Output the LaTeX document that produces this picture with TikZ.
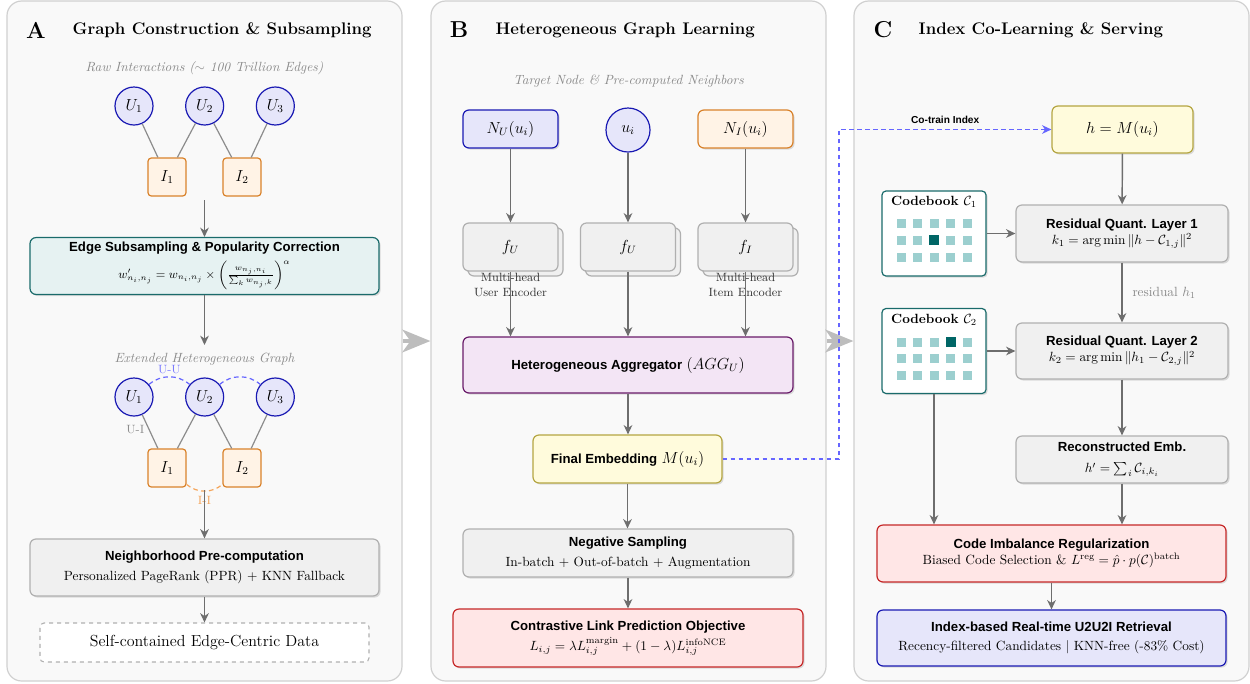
\documentclass[tikz,border=0pt]{standalone}
\usepackage{amsfonts,amssymb,amsmath}
\usepackage{fontspec}
\newfontfamily\headsans{Liberation Sans}
\usetikzlibrary{arrows.meta,positioning,shadows}

\definecolor{panelbg}{HTML}{F9F9F9}
\definecolor{panelrule}{HTML}{D0D0D0}
\definecolor{notegray}{HTML}{8A8A8A}
\definecolor{flowgray}{HTML}{6E6E6E}
\definecolor{linkgray}{HTML}{8C8C8C}
\definecolor{ublue}{HTML}{1A1AB3}
\definecolor{ufill}{HTML}{E6E6FA}
\definecolor{bluerule}{HTML}{1A1AB3}
\definecolor{bluefill}{HTML}{E6E6FA}
\definecolor{orangerule}{HTML}{D9822B}
\definecolor{orangefill}{HTML}{FFF3E6}
\definecolor{tealrule}{HTML}{1A6B6B}
\definecolor{tealfill}{HTML}{E6F2F2}
\definecolor{tealcell}{HTML}{9CCFCF}
\definecolor{tealdark}{HTML}{006666}
\definecolor{grayrule}{HTML}{B0B0B0}
\definecolor{grayfill}{HTML}{F0F0F0}
\definecolor{purplerule}{HTML}{6A1B6A}
\definecolor{purplefill}{HTML}{F3E5F5}
\definecolor{yellowrule}{HTML}{B5A642}
\definecolor{yellowfill}{HTML}{FFFBDC}
\definecolor{redrule}{HTML}{C62828}
\definecolor{redfill}{HTML}{FFE6E6}
\definecolor{cotrainblue}{HTML}{6666FF}
\definecolor{uulabel}{HTML}{7A7AFF}
\definecolor{iilabel}{HTML}{F5A55A}
\definecolor{bigarrow}{HTML}{BDBDBD}

\newcommand{\boxtitle}[1]{{\headsans\bfseries\fontsize{9.9}{12}\selectfont #1}}

\begin{document}
\begin{tikzpicture}[x=0.75pt,y=0.75pt,>={Stealth[length=7pt,width=6.5pt,inset=2.2pt]},
  node distance=53pt,
  boxsize/.style 2 args={minimum width=#1*0.75pt,minimum height=#2*0.75pt},
  panel/.style={draw=panelrule,fill=panelbg,line width=0.9pt,rounded corners=11pt,boxsize={395}{680}},
  heading/.style={font=\fontsize{12.6}{15}\selectfont\bfseries,anchor=west},
  letter/.style={font=\LARGE\bfseries},
  note/.style={font=\itshape,text=notegray},
  unode/.style={circle,draw=ublue,fill=ufill,line width=0.9pt,minimum size=28.5pt,inner sep=0pt,font=\large},
  inode/.style={draw=orangerule,fill=orangefill,line width=0.9pt,rounded corners=2.5pt,minimum size=28.5pt,inner sep=0pt,font=\large},
  card/.style={draw=#1rule,fill=#1fill,line width=0.9pt,rounded corners=4.5pt,align=center,
    drop shadow={shadow xshift=1.2pt,shadow yshift=-1.2pt,opacity=0.12,fill=black}},
  encoder/.style={card=gray,boxsize={95}{48},font=\large,
    copy shadow={shadow xshift=3.75pt,shadow yshift=-3.75pt}},
  encnote/.style={font=\small,align=center,inner sep=0pt,text=black!80},
  codebook/.style={draw=tealrule,fill=white,line width=0.9pt,rounded corners=3pt,boxsize={104}{85},
    drop shadow={shadow xshift=1.2pt,shadow yshift=-1.2pt,opacity=0.12,fill=black}},
  link/.style={draw=linkgray,line width=0.9pt},
  flow/.style={->,draw=flowgray,line width=1.1pt},
  uuedge/.style={draw=cotrainblue,dash pattern=on 3.5pt off 2.5pt,line width=0.9pt},
  iiedge/.style={draw=iilabel,dash pattern=on 3.5pt off 2.5pt,line width=0.9pt},
  cotrain/.style={->,draw=cotrainblue,dash pattern=on 3.5pt off 2.5pt,line width=0.9pt},
  bigflow/.style={-{Stealth[length=21pt,width=17pt,inset=6pt]},draw=bigarrow,line width=3pt}]

\useasboundingbox (0,0) rectangle (1250,-683);

\node[panel] (pa) at (204.5,-341) {};
\node[panel] (pb) at (628.5,-341) {};
\node[panel] (pc) at (1051.5,-341) {};

\node[letter] (la) at (36,-30) {A};
\node[heading] (ta) at (68,-30) {Graph Construction \& Subsampling};
\node[letter] (lb) at (459,-30) {B};
\node[heading] (tb) at (491,-30) {Heterogeneous Graph Learning};
\node[letter] (lc) at (883,-30) {C};
\node[heading] (tc) at (914,-30) {Index Co-Learning \& Serving};

\node[note] (raw) at (204.5,-68) {Raw Interactions ($\sim$ 100 Trillion Edges)};
\node[unode] (ua1) at (134,-106) {$U_1$};
\node[unode,right of=ua1] (ua2) {$U_2$};
\node[unode,right of=ua2] (ua3) {$U_3$};
\node[inode] (ia1) at (167,-177) {$I_1$};
\node[inode,right of=ia1,node distance=56.25pt] (ia2) {$I_2$};
\draw[link] (ua1) -- (ia1) (ua2) -- (ia1) (ua2) -- (ia2) (ua3) -- (ia2);

\coordinate (ga) at (204.5,-200);
\node[card=teal,boxsize={349}{56}] (edge) at (204.5,-266)
  {\boxtitle{Edge Subsampling \& Popularity Correction}\\[4pt]
   {\small $w'_{n_i,n_j} = w_{n_i,n_j}\times\left(\frac{w_{n_j,n_i}}{\sum_k w_{n_j,k}}\right)^{\alpha}$}};
\draw[flow] (ga) -- (edge);

\coordinate (gb) at (204.5,-345);
\draw[flow] (edge) -- (gb);
\node[note] (ext) at (204.5,-359) {Extended Heterogeneous Graph};
\node[unode] (ub1) at (134,-397) {$U_1$};
\node[unode,right of=ub1] (ub2) {$U_2$};
\node[unode,right of=ub2] (ub3) {$U_3$};
\node[inode] (ib1) at (167,-468) {$I_1$};
\node[inode,right of=ib1,node distance=56.25pt] (ib2) {$I_2$};
\draw[link] (ub1) -- node[pos=0.45,left,text=linkgray,font=\small] {U-I} (ib1)
  (ub2) -- (ib1) (ub2) -- (ib2) (ub3) -- (ib2);
\draw[uuedge] (ub1) to[bend left=40] node[above=-1.5pt,text=uulabel,font=\small] {U-U} (ub2);
\draw[uuedge] (ub2) to[bend left=40] (ub3);
\draw[iiedge] (ib1) to[bend right=40] node[below=0pt,text=iilabel,font=\small] {I-I} (ib2);

\coordinate (gc) at (204.5,-490);
\node[card=gray,boxsize={349}{57}] (npc) at (204.5,-567.5)
  {\boxtitle{Neighborhood Pre-computation}\\[3pt]
   Personalized PageRank (PPR) + KNN Fallback};
\draw[flow] (gc) -- (npc);
\node[draw=grayrule,dashed,fill=white,line width=0.8pt,rounded corners=3pt,boxsize={329}{39},font=\large] (data) at (204.5,-642.5)
  {Self-contained Edge-Centric Data};
\draw[flow] (npc) -- (data);

\node[note] (tgt) at (628.5,-81) {Target Node \& Pre-computed Neighbors};
\node[card=blue,boxsize={95}{38},font=\large] (nu) at (510.5,-129) {$N_U(u_i)$};
\node[unode,minimum size=33pt] (ui) at (628,-130) {$u_i$};
\node[card=orange,boxsize={95}{38},font=\large] (ni) at (745.5,-129) {$N_I(u_i)$};
\node[encoder] (fu1) at (510.5,-247) {$f_U$};
\node[encoder] (fu2) at (628,-247) {$f_U$};
\node[encoder] (fi) at (745.5,-247) {$f_I$};
\node[encnote,below=1pt of fu1] (encu) {Multi-head\\User Encoder};
\node[encnote,below=1pt of fi] (enci) {Multi-head\\Item Encoder};
\draw[flow] (nu) -- (fu1);
\draw[flow] (ui) -- (fu2);
\draw[flow] (ni) -- (fi);
\node[card=purple,boxsize={330}{56}] (agg) at (628,-365)
  {\boxtitle{Heterogeneous Aggregator} {\large $(AGG_U)$}};
\draw[flow] (fu1) -- (fu1 |- agg.north);
\draw[flow] (fu2) -- (agg);
\draw[flow] (fi) -- (fi |- agg.north);
\node[card=yellow,boxsize={189}{48}] (final) at (627.5,-459)
  {\boxtitle{Final Embedding} {\large $M(u_i)$}};
\draw[flow] (agg) -- (agg |- final.north);
\node[card=gray,boxsize={330}{48}] (neg) at (628,-553)
  {\boxtitle{Negative Sampling}\\[3pt]
   In-batch + Out-of-batch + Augmentation};
\draw[flow] (final) -- (final |- neg.north);
\node[card=red,boxsize={350}{58}] (obj) at (628,-638)
  {\boxtitle{Contrastive Link Prediction Objective}\\[3pt]
   $L_{i,j} = \lambda L_{i,j}^{\text{margin}} + (1-\lambda) L_{i,j}^{\text{infoNCE}}$};
\draw[flow] (neg) -- (obj);

\draw[bigflow] (pa) -- (pb);
\draw[bigflow] (pb) -- (pc);

\node[card=yellow,boxsize={141}{47},font=\large] (hbox) at (1122.5,-129.5) {$h = M(u_i)$};
\coordinate (ct) at (839,-459);
\draw[cotrain] (final) -- (ct) |- node[pos=0.75,above=1pt,text=black,font=\headsans\bfseries\fontsize{7.6}{9}\selectfont] {Co-train Index} (hbox);

\node[card=gray,boxsize={212}{57}] (rq1) at (1122,-233.5)
  {\boxtitle{Residual Quant. Layer 1}\\[0pt]
   $k_1 = \arg\min \|h - \mathcal{C}_{1,j}\|^2$};
\node[codebook] (cb1) at (934,-233.5) {};
\node[below=1pt of cb1.north,font=\bfseries] (cbt1) {Codebook $\mathcal{C}_1$};
\begin{scope}[shift={(cb1.center)}]
  \foreach \c in {-2,...,2}
    \foreach \r in {0,1,2}
      \fill[tealcell] (\c*16.5-4.5,6-\r*17) rectangle ++(9,9);
  \fill[tealdark] (-5,-11.5) rectangle ++(10,10);
\end{scope}
\draw[flow] (hbox) -- (rq1);
\draw[flow] (cb1) -- (rq1);

\node[card=gray,boxsize={212}{56}] (rq2) at (1122,-351)
  {\boxtitle{Residual Quant. Layer 2}\\[0pt]
   $k_2 = \arg\min \|h_1 - \mathcal{C}_{2,j}\|^2$};
\node[codebook] (cb2) at (934,-351) {};
\node[below=1pt of cb2.north,font=\bfseries] (cbt2) {Codebook $\mathcal{C}_2$};
\begin{scope}[shift={(cb2.center)}]
  \foreach \c in {-2,...,2}
    \foreach \r in {0,1,2}
      \fill[tealcell] (\c*16.5-4.5,4.5-\r*16.5) rectangle ++(9,9);
  \fill[tealdark] (11.5,4) rectangle ++(10,10);
\end{scope}
\draw[flow] (rq1) -- node[right=4pt,text=notegray] {residual $h_1$} (rq2);
\draw[flow] (cb2) -- (rq2);

\node[card=gray,boxsize={212}{47}] (recon) at (1122,-459.5)
  {\boxtitle{Reconstructed Emb.}\\[4pt]
   $h' = \sum_i \mathcal{C}_{i,k_i}$};
\draw[flow] (rq2) -- (recon);

\node[card=red,boxsize={349}{57}] (imb) at (1051.5,-553.5)
  {\boxtitle{Code Imbalance Regularization}\\[0pt]
   Biased Code Selection \& $L^{\text{reg}} = \hat{p}\cdot p(\mathcal{C})^{\text{batch}}$};
\draw[flow] (cb2) -- (cb2 |- imb.north);
\draw[flow] (recon) -- (recon |- imb.north);
\node[card=blue,boxsize={349}{56}] (ret) at (1051.5,-638)
  {\boxtitle{Index-based Real-time U2U2I Retrieval}\\[2pt]
   Recency-filtered Candidates $|$ KNN-free (-83\% Cost)};
\draw[flow] (imb) -- (ret);
\end{tikzpicture}
\end{document}
